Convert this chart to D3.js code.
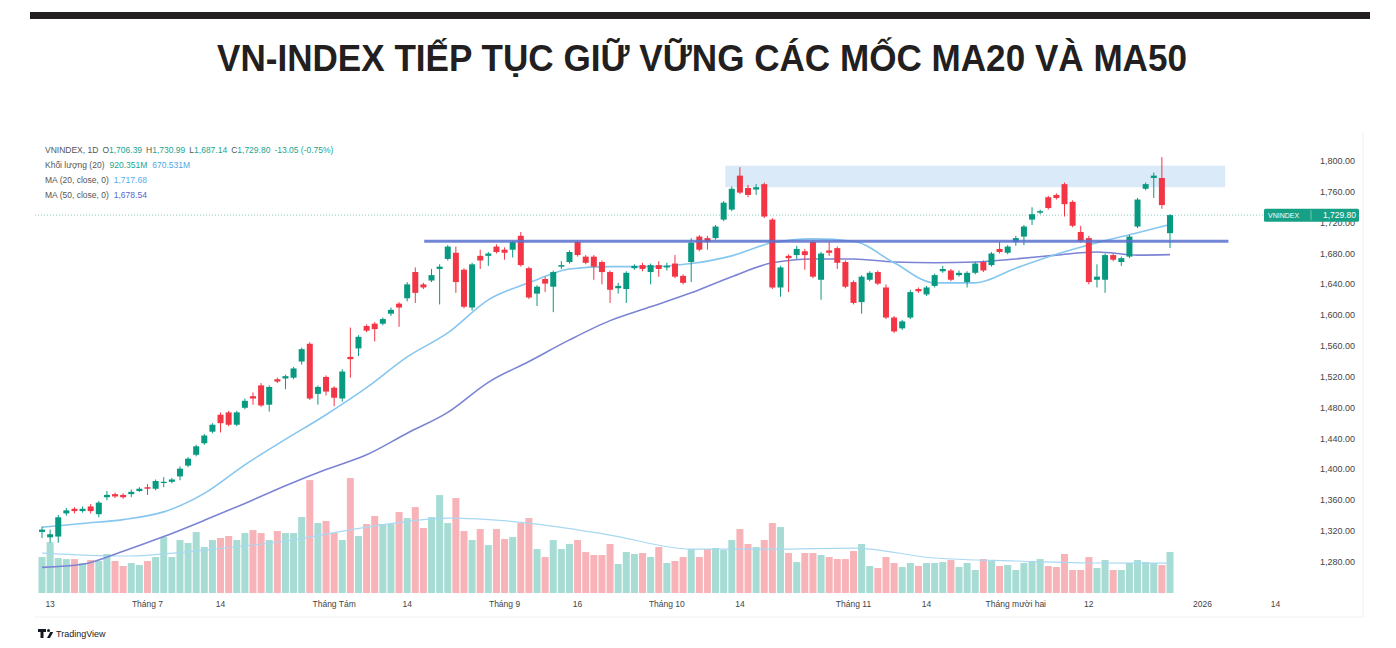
<!DOCTYPE html>
<html><head><meta charset="utf-8">
<script src="https://cdn.jsdelivr.net/npm/d3@7"></script>
<style>body{margin:0;background:#fff;} svg{display:block;font-family:"Liberation Sans",Arial,sans-serif;}</style>
</head><body><svg id="c" width="1396" height="648"></svg>
<script>
// ---- DATA ----
const opens = [1319,1312,1313,1343,1349,1346,1352,1342,1364,1368,
1367,1368,1372,1377,1375,1383,1384,1391,1405,1419,
1434,1449,1471,1474,1458,1480,1495,1509,1484,1517,
1518,1519,1540,1563,1498,1520,1506,1492,1546,1557,
1586,1589,1589,1602,1615,1622,1656,1640,1645,1660,
1673,1681,1659,1610,1677,1677,1689,1685,1685,1703,
1661,1628,1647,1637,1663,1669,1695,1676,1676,1669,
1656,1635,1634,1661,1665,1656,1665,1662,1667,1651,
1669,1702,1700,1700,1724,1737,1781,1765,1763,1770,
1724,1636,1677,1678,1683,1695,1646,1684,1687,1669,
1643,1617,1646,1656,1636,1597,1583,1597,1634,1627,
1638,1657,1658,1652,1643,1655,1669,1665,1686,1681,
1695,1702,1724,1733,1753,1756,1770,1747,1708,1700,
1646,1646,1678,1669,1676,1715,1764,1778,1778,1706.39];
const highs = [1326,1322,1341,1350,1351,1352,1355,1359,1372,1370,
1369,1374,1377,1381,1387,1390,1389,1404,1416,1432,
1446,1460,1474,1476,1476,1492,1500,1512,1509,1519,
1523,1533,1558,1565,1509,1522,1508,1530,1584,1574,
1588,1591,1597,1610,1617,1643,1662,1642,1660,1666,
1691,1689,1661,1668,1685,1682,1692,1688,1697,1708,
1663,1639,1650,1658,1670,1684,1697,1678,1678,1671,
1658,1642,1657,1666,1668,1667,1670,1668,1678,1653,
1700,1704,1703,1717,1748,1767,1792,1769,1770,1772,
1726,1664,1679,1690,1686,1697,1682,1695,1689,1671,
1645,1652,1657,1658,1640,1599,1594,1633,1636,1638,
1654,1664,1660,1658,1657,1669,1671,1682,1695,1691,
1703,1717,1740,1737,1755,1758,1772,1749,1716,1703,
1666,1680,1680,1676,1704,1752,1772,1785,1805,1730.99];
const lows = [1311,1305,1305,1340,1343,1344,1343,1338,1360,1363,
1362,1364,1371,1367,1373,1377,1382,1386,1403,1417,
1432,1447,1448,1456,1456,1478,1484,1481,1475,1512,
1504,1517,1536,1490,1484,1496,1482,1488,1519,1547,
1578,1566,1587,1599,1585,1618,1616,1634,1643,1614,
1671,1629,1609,1606,1660,1664,1680,1672,1675,1663,
1621,1612,1630,1604,1660,1667,1676,1666,1646,1640,
1616,1628,1616,1659,1657,1640,1650,1658,1648,1640,
1643,1683,1685,1698,1722,1735,1757,1753,1756,1726,
1634,1624,1630,1673,1659,1648,1620,1677,1660,1635,
1614,1602,1644,1639,1595,1577,1581,1595,1629,1625,
1636,1655,1644,1650,1636,1653,1656,1663,1680,1679,
1690,1691,1717,1731,1737,1750,1728,1714,1694,1640,
1636,1629,1670,1664,1674,1713,1762,1752,1738,1687.14];
const closes = [1322,1316,1338,1347,1346,1349,1346,1357,1367,1365,
1364,1371,1375,1375,1385,1384,1387,1401,1414,1430,
1444,1458,1460,1458,1474,1489,1492,1483,1507,1514,
1521,1531,1556,1492,1507,1501,1493,1527,1543,1572,
1580,1582,1595,1607,1610,1640,1629,1636,1652,1663,
1689,1643,1611,1666,1671,1680,1682,1681,1695,1665,
1623,1637,1641,1656,1665,1682,1678,1668,1663,1656,
1633,1638,1655,1664,1660,1665,1660,1664,1650,1642,
1694,1685,1695,1715,1746,1764,1759,1756,1766,1728,
1636,1662,1674,1686,1678,1650,1680,1681,1668,1637,
1616,1650,1655,1641,1597,1579,1592,1630,1631,1636,
1652,1660,1646,1655,1655,1667,1658,1680,1682,1689,
1700,1715,1731,1735,1739,1752,1744,1716,1696,1643,
1650,1678,1672,1674,1702,1750,1770,1781,1742.85,1729.80];
const volumes = [806,1140,784,760,760,672,740,717,874,717,
605,672,627,717,806,1254,806,1187,1120,1366,
1030,1187,1232,1277,1187,1344,1411,1344,1187,1389,
1344,1344,1702,2531,1568,1613,1344,1187,2576,1277,
1546,1725,1546,1546,1814,1680,1926,1456,1702,2195,
1568,2128,1389,1187,1434,1075,1434,1210,1254,1568,
1680,985,806,1187,985,1098,1187,918,851,851,
1098,650,918,874,896,806,1030,672,717,806,
985,806,985,1008,963,1187,1434,1098,1030,1187,
1568,1478,896,694,896,896,851,806,761,761,
940,1098,605,560,806,672,582,672,605,672,
672,694,739,582,672,515,761,717,605,627,
515,672,717,761,605,582,874,515,515,806,
560,739,515,515,672,739,694,672,627,920.351];
const maIdx = [0,5,10,15,20,25,30,35,40,45,50,55,60,65,70,75,80,85,90,95,100,105,110,115,120,125,130,135,139];
const ma20 = [1325,1330,1335,1345,1369,1406,1439,1471,1506,1546,1577,1620,1642,1660,1663,1663,1667,1677,1694,1699,1696,1668,1642,1642,1661,1679,1694,1707,1717.68];
const ma50 = [1273,1277,1294,1313,1334,1356,1379,1400,1419,1447,1474,1513,1540,1568,1593,1611,1629,1650,1668,1673,1673,1669,1668,1669,1673,1678,1682,1678,1678.54];
const volMaIdx = [0,10,20,30,40,50,60,70,80,90,100,110,120,130,139];
const volMa = [896,829,963,1165,1478,1680,1568,1299,985,985,1008,784,717,672,670.531];
const priceTicks = [1280,1320,1360,1400,1440,1480,1520,1560,1600,1640,1680,1720,1760,1800];
const timeTickIdx = [1,13,22,36,45,57,66,77,86,100,109,120,129,143,152];
const timeTickLabels = ["13","Tháng 7","14","Tháng Tám","14","Tháng 9","16","Tháng 10","14","Tháng 11","14","Tháng mười hai","12","2026","14"];
const supportLevel = 1696;
const zoneLow = 1766, zoneHigh = 1794;
const lastClose = 1729.80;

// ---- CHART ----
const svg = d3.select("#c");
const UP = "#089981", DN = "#f23645";
const VUP = "#a7dcd4", VDN = "#f7b3b8";

svg.append("rect").attr("x",30).attr("y",12).attr("width",1340).attr("height",7).attr("fill","#231f20");
svg.append("text").attr("x",702).attr("y",71).attr("text-anchor","middle")
  .attr("font-family","'Liberation Sans Narrow','Liberation Sans',Arial,sans-serif")
  .attr("font-weight","bold").attr("font-size",37).attr("fill","#231f20")
  .attr("textLength",970).attr("lengthAdjust","spacingAndGlyphs")
  .text("VN-INDEX TIẾP TỤC GIỮ VỮNG CÁC MỐC MA20 VÀ MA50");

const x = d3.scaleLinear().domain([0,139]).range([42,1170]);
const y = d3.scaleLinear().domain([1280,1800]).range([562,161]);
const yv = d3.scaleLinear().domain([0,2600]).range([593,477]);

const PL=35, PR=1265, PT=134, PB=596;
svg.append("defs").append("clipPath").attr("id","clip").append("rect")
  .attr("x",PL).attr("y",PT).attr("width",PR-PL).attr("height",PB-PT);
const g = svg.append("g").attr("clip-path","url(#clip)");

// frame
svg.append("line").attr("x1",PL).attr("x2",1363).attr("y1",617).attr("y2",617).attr("stroke","#f0f0f0");
svg.append("line").attr("x1",1363).attr("x2",1363).attr("y1",132).attr("y2",617).attr("stroke","#f0f0f0");

// resistance zone
g.append("rect").attr("x",x(84.2)).attr("width",x(145.8)-x(84.2))
  .attr("y",y(zoneHigh)).attr("height",y(zoneLow)-y(zoneHigh)).attr("fill","#d4e6f7").attr("opacity",0.85);

// volume bars
const idx = d3.range(closes.length);
g.selectAll("rect.v").data(idx).join("rect").attr("class","v")
  .attr("x",i=>x(i)-3.5).attr("width",7)
  .attr("y",i=>yv(volumes[i])).attr("height",i=>yv(0)-yv(volumes[i]))
  .attr("fill",i=>closes[i]>=opens[i]?VUP:VDN);

// volume MA
g.append("path").datum(volMaIdx.map((d,k)=>[d,volMa[k]]))
  .attr("d",d3.line().x(d=>x(d[0])).y(d=>yv(d[1])).curve(d3.curveMonotoneX))
  .attr("fill","none").attr("stroke","#a9d8f2").attr("stroke-width",1.2);

// MA lines
const maLine = d3.line().x(d=>x(d[0])).y(d=>y(d[1])).curve(d3.curveMonotoneX);
g.append("path").datum(maIdx.map((d,k)=>[d,ma50[k]])).attr("d",maLine)
  .attr("fill","none").attr("stroke","#7b84d4").attr("stroke-width",1.6);
g.append("path").datum(maIdx.map((d,k)=>[d,ma20[k]])).attr("d",maLine)
  .attr("fill","none").attr("stroke","#86c6ef").attr("stroke-width",1.6);

// current price dotted line
g.append("line").attr("x1",PL).attr("x2",PR).attr("y1",y(lastClose)).attr("y2",y(lastClose))
  .attr("stroke","#86d0c3").attr("stroke-width",1).attr("stroke-dasharray","1,2");

// candles
const c = g.selectAll("g.c").data(idx).join("g").attr("class","c");
c.append("line").attr("x1",i=>x(i)).attr("x2",i=>x(i))
  .attr("y1",i=>y(highs[i])).attr("y2",i=>y(lows[i]))
  .attr("stroke",i=>closes[i]>=opens[i]?UP:DN).attr("stroke-width",1);
c.append("rect").attr("x",i=>x(i)-3).attr("width",6)
  .attr("y",i=>y(Math.max(opens[i],closes[i])))
  .attr("height",i=>Math.max(1.2,Math.abs(y(opens[i])-y(closes[i]))))
  .attr("fill",i=>closes[i]>=opens[i]?UP:DN);

// support line
g.append("line").attr("x1",x(47.1)).attr("x2",x(146.2)).attr("y1",y(supportLevel)).attr("y2",y(supportLevel))
  .attr("stroke","#5a72d0").attr("stroke-width",3).attr("opacity",0.85);

// price axis
const fmt = d3.format(",.2f");
svg.selectAll("text.yt").data(priceTicks).join("text").attr("class","yt")
  .attr("x",1355).attr("y",d=>y(d)+3).attr("text-anchor","end")
  .attr("font-size",9).attr("fill","#444").text(d=>fmt(d));

// time axis
svg.selectAll("text.xt").data(timeTickIdx).join("text").attr("class","xt")
  .attr("x",d=>x(d)).attr("y",607).attr("text-anchor","middle")
  .attr("font-size",8.5).attr("fill","#444").text((d,k)=>timeTickLabels[k]);

// last price label
const py = y(lastClose);
svg.append("rect").attr("x",1264).attr("y",py-6.5).attr("width",95).attr("height",13).attr("fill","#16a085").attr("rx",1.5);
svg.append("line").attr("x1",1311).attr("x2",1311).attr("y1",py-5).attr("y2",py+5).attr("stroke","#7fd3c2").attr("stroke-width",0.8);
svg.append("text").attr("x",1268).attr("y",py+2.5).attr("font-size",7).attr("fill","#fff").text("VNINDEX");
svg.append("text").attr("x",1356).attr("y",py+3).attr("text-anchor","end").attr("font-size",8.5).attr("fill","#fff").text(fmt(lastClose));

// legend
const leg = svg.append("g").attr("font-size",8.5);
function legLine(yy, parts){
  const t = leg.append("text").attr("x",45).attr("y",yy);
  parts.forEach((p,k)=>{ t.append("tspan").attr("fill",p[1]).attr("dx",k===0?0:(p[2]||0)).text(p[0]); });
}
const TEAL="#22a58f", GR="#555";
legLine(153,[["VNINDEX, 1D",GR],["O",GR,4],["1,706.39",TEAL],["H",GR,4],["1,730.99",TEAL],["L",GR,4],["1,687.14",TEAL],["C",GR,4],["1,729.80",TEAL],["-13.05 (-0.75%)",TEAL,4]]);
legLine(168,[["Khối lượng (20)",GR],["920.351M",TEAL,5],["670.531M","#4aa8e6",5]]);
legLine(183,[["MA (20, close, 0)",GR],["1,717.68","#55aeea",5]]);
legLine(198,[["MA (50, close, 0)",GR],["1,678.54","#5466cf",5]]);

// TradingView logo
const lg = svg.append("g").attr("fill","#131722");
lg.append("path").attr("d","M38,629 h8 v3 h-2.5 v6 h-3 v-6 h-2.5 z");
lg.append("circle").attr("cx",48.5).attr("cy",630.5).attr("r",1.5);
lg.append("path").attr("d","M47,638 l3.2,-6 h3 l-3.2,6 z");
svg.append("text").attr("x",56).attr("y",637).attr("font-size",9).attr("fill","#222")
  .attr("font-family","'Liberation Sans Narrow','Liberation Sans',Arial,sans-serif").text("TradingView");
</script></body></html>
